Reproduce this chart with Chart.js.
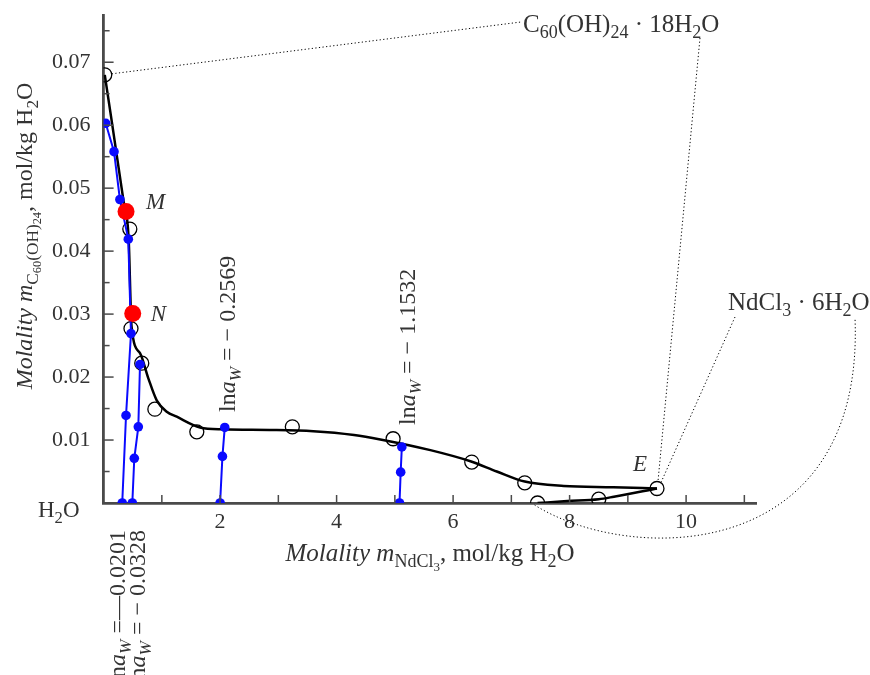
<!DOCTYPE html>
<html>
<head>
<meta charset="utf-8">
<script src="https://cdn.jsdelivr.net/npm/chart.js@4.4.0/dist/chart.umd.min.js"></script>
<style>
  html, body { margin: 0; padding: 0; background: #fff; }
  #wrap { width: 870px; height: 675px; }
</style>
</head>
<body>
<div id="wrap"><canvas id="phaseChart" width="870" height="675"></canvas></div>
<script>
// solubility curve (black line)
const solubilityX = [0.02, 0.34, 0.43, 0.48, 0.625, 0.768, 0.912, 1.084, 1.256, 1.656, 2.05, 2.85, 3.6, 4.3, 4.75, 5.61, 6.31, 6.75, 7.23, 7.9, 8.75, 9.5];
const solubilityY = [0.0680, 0.0481, 0.0420, 0.0280, 0.0238, 0.0198, 0.0163, 0.0145, 0.0137, 0.0120, 0.0117, 0.0116, 0.0114, 0.0108, 0.0101, 0.0084, 0.0066, 0.0050, 0.0034, 0.0027, 0.0025, 0.0023];
// NdCl3 branch up to the eutonic point E
const branchX = [7.45, 7.96, 8.5, 8.76, 9.5];
const branchY = [0.0000, 0.0003, 0.0006, 0.0010, 0.0023];
// experimental points (open circles)
const expX = [0.02, 0.45, 0.47, 0.655, 0.88, 1.6, 3.24, 4.97, 6.32, 7.23, 7.45, 8.5, 9.5];
const expY = [0.0680, 0.0435, 0.0277, 0.0222, 0.0149, 0.0113, 0.0121, 0.0102, 0.0065, 0.0032, 0.0000, 0.0006, 0.0023];
// isopiestic lines (blue)
const iso0201X = [0.036, 0.179, 0.28, 0.424, 0.47, 0.385, 0.32];
const iso0201Y = [0.0603, 0.0558, 0.0482, 0.0419, 0.0269, 0.0139, 0.0000];
const iso0328X = [0.493, 0.527, 0.596, 0.625];
const iso0328Y = [0.0000, 0.0071, 0.0121, 0.0220];
const iso2569X = [2.0, 2.04, 2.08];
const iso2569Y = [0.0000, 0.0074, 0.0120];
const iso1532X = [5.08, 5.10, 5.12];
const iso1532Y = [0.0000, 0.0049, 0.0089];
// points M and N (red)
const redNames = ['M', 'N'];
const redX = [0.385, 0.50];
const redY = [0.0463, 0.0301];
// x tick labels shown / y tick labels shown
const xTickLabels = [2, 4, 6, 8, 10];
const yTickLabels = ['0.01', '0.02', '0.03', '0.04', '0.05', '0.06', '0.07'];

const SERIF = '"Liberation Serif", "DejaVu Serif", serif';
const TXT = '#333';

const toPts = (xs, ys) => xs.map((x, i) => ({ x: x, y: ys[i] }));

function fontFor(st, size) {
  const lvl = (st.match(/s/g) || []).length;
  const sz = size * Math.pow(0.72, lvl);
  return (st.indexOf('i') >= 0 ? 'italic ' : '') + sz.toFixed(1) + 'px ' + SERIF;
}
function subShift(st, size) {
  const lvl = (st.match(/s/g) || []).length;
  if (lvl === 0) return 0;
  if (lvl === 1) return size * 0.24;
  return size * 0.24 + size * 0.72 * 0.2;
}
// parts: [[text, style]] style: 'n' normal, 'i' italic, 's' sub, 'ss' subsub, 'si' italic sub
function drawRich(ctx, parts, x, y, size, align) {
  let w = 0;
  parts.forEach(p => { ctx.font = fontFor(p[1], size); w += ctx.measureText(p[0]).width; });
  let cx = align === 'center' ? x - w / 2 : (align === 'right' ? x - w : x);
  ctx.textAlign = 'left';
  ctx.textBaseline = 'alphabetic';
  parts.forEach(p => {
    ctx.font = fontFor(p[1], size);
    ctx.fillText(p[0], cx, y + subShift(p[1], size));
    cx += ctx.measureText(p[0]).width;
  });
}
function drawRotated(ctx, parts, x, y, size, align) {
  ctx.save();
  ctx.translate(x, y);
  ctx.rotate(-Math.PI / 2);
  drawRich(ctx, parts, 0, 0, size, align);
  ctx.restore();
}
const lnaw = v => [['ln', 'n'], ['a', 'i'], ['W', 'si'], [' = \u2212 ' + v, 'n']];

// inward tick marks, annotations and dotted leader lines
const annotations = {
  id: 'annotations',
  afterDatasetsDraw(chart) {
    const ctx = chart.ctx;
    const xs = chart.scales.x, ys = chart.scales.y;
    const a = chart.chartArea;
    ctx.save();
    ctx.strokeStyle = '#4a4a4a';
    ctx.lineWidth = 1.5;
    xs.ticks.forEach(t => {
      if (t.value <= 0) return;
      const px = xs.getPixelForValue(t.value);
      ctx.beginPath(); ctx.moveTo(px, a.bottom); ctx.lineTo(px, a.bottom - 8); ctx.stroke();
    });
    ys.ticks.forEach(t => {
      if (t.value <= 0) return;
      const major = Math.round(t.value * 200) % 2 === 0;
      const py = ys.getPixelForValue(t.value);
      ctx.beginPath(); ctx.moveTo(a.left, py); ctx.lineTo(a.left + (major ? 10 : 6), py); ctx.stroke();
    });

    // dotted leader lines
    ctx.strokeStyle = '#000';
    ctx.lineWidth = 1;
    ctx.setLineDash([1.2, 2.4]);
    const p0x = xs.getPixelForValue(expX[0]), p0y = ys.getPixelForValue(expY[0]);
    const eX = xs.getPixelForValue(expX[12]), eY = ys.getPixelForValue(expY[12]);
    const bX = xs.getPixelForValue(expX[10]), bY = ys.getPixelForValue(expY[10]);
    ctx.beginPath(); ctx.moveTo(p0x + 7, p0y - 1); ctx.lineTo(521, 22); ctx.stroke();
    ctx.beginPath(); ctx.moveTo(700, 38); ctx.lineTo(eX + 1, eY - 7); ctx.stroke();
    ctx.beginPath(); ctx.moveTo(735, 317); ctx.lineTo(eX + 4, eY - 6); ctx.stroke();
    ctx.beginPath(); ctx.moveTo(bX - 3, bY + 2);
    ctx.bezierCurveTo(630, 565, 865, 565, 855, 318); ctx.stroke();
    ctx.setLineDash([]);

    ctx.fillStyle = TXT;
    // point labels
    drawRich(ctx, [['M', 'i']], xs.getPixelForValue(redX[0]) + 20, ys.getPixelForValue(redY[0]) - 2, 23, 'left');
    drawRich(ctx, [['N', 'i']], xs.getPixelForValue(redX[1]) + 18, ys.getPixelForValue(redY[1]) + 8, 23, 'left');
    drawRich(ctx, [['E', 'i']], eX - 24, eY - 18, 23, 'left');
    // compound labels
    drawRich(ctx, [['C', 'n'], ['60', 's'], ['(OH)', 'n'], ['24', 's'], [' \u00b7 18H', 'n'], ['2', 's'], ['O', 'n']], 523, 32, 25, 'left');
    drawRich(ctx, [['NdCl', 'n'], ['3', 's'], [' \u00b7 6H', 'n'], ['2', 's'], ['O', 'n']], 728, 310, 25, 'left');
    drawRich(ctx, [['H', 'n'], ['2', 's'], ['O', 'n']], 38, 517, 23, 'left');
    // isopiestic labels
    drawRotated(ctx, lnaw('0.2569'), 235, 412, 24, 'left');
    drawRotated(ctx, lnaw('1.1532'), 415, 425, 24, 'left');
    drawRotated(ctx, [['ln', 'n'], ['a', 'i'], ['W', 'si'], [' =\u20140.0201', 'n']], 125, 530, 24, 'right');
    drawRotated(ctx, lnaw('0.0328'), 145, 530, 24, 'right');
    // axis titles
    drawRich(ctx, [['Molality m', 'i'], ['NdCl', 's'], ['3', 'ss'], [', mol/kg H', 'n'], ['2', 's'], ['O', 'n']], 430, 561, 25, 'center');
    drawRotated(ctx, [['Molality m', 'i'], ['C', 's'], ['60', 'ss'], ['(OH)', 's'], ['24', 'ss'], [', mol/kg H', 'n'], ['2', 's'], ['O', 'n']], 32, 236, 24, 'center');
    ctx.restore();
  }
};

const blueSet = (xs, ys) => ({
  data: toPts(xs, ys), showLine: true, borderColor: '#0a0aff', borderWidth: 2,
  pointRadius: 4.8, pointBackgroundColor: '#0a0aff', pointBorderWidth: 0, order: 1, clip: 0
});

const noPad = s => { s.paddingTop = 0; s.paddingBottom = 0; s.paddingLeft = 0; s.paddingRight = 0; };

new Chart(document.getElementById('phaseChart'), {
  type: 'scatter',
  data: {
    datasets: [
      { data: toPts(redX, redY), pointRadius: 8.5, pointBackgroundColor: '#ff0000', pointBorderWidth: 0, order: 0, clip: 0 },
      blueSet(iso0201X, iso0201Y),
      blueSet(iso0328X, iso0328Y),
      blueSet(iso2569X, iso2569Y),
      blueSet(iso1532X, iso1532Y),
      { data: toPts(expX, expY), pointRadius: 7, pointBorderColor: '#000', pointBackgroundColor: 'rgba(0,0,0,0)', pointBorderWidth: 1.3, order: 2, clip: 0 },
      { data: toPts(solubilityX, solubilityY), showLine: true, borderColor: '#000', borderWidth: 2.5, pointRadius: 0, cubicInterpolationMode: 'monotone', order: 3, clip: 0 },
      { data: toPts(branchX, branchY), showLine: true, borderColor: '#000', borderWidth: 2.5, pointRadius: 0, cubicInterpolationMode: 'monotone', order: 3, clip: 0 }
    ]
  },
  options: {
    responsive: false,
    animation: false,
    devicePixelRatio: 1,
    layout: { padding: { top: 15, right: 114, left: 0, bottom: 0 } },
    plugins: { legend: { display: false }, tooltip: { enabled: false } },
    scales: {
      x: {
        type: 'linear', min: 0, max: 11.2,
        afterFit: s => { s.height = 172; noPad(s); },
        grid: { display: true, drawOnChartArea: false, drawTicks: false },
        border: { display: true, color: '#4a4a4a', width: 2.8 },
        ticks: {
          stepSize: 1, includeBounds: false, autoSkip: false, maxRotation: 0, padding: 6,
          color: TXT, font: { family: SERIF, size: 22 },
          callback: v => xTickLabels.indexOf(v) >= 0 ? String(v) : ''
        }
      },
      y: {
        type: 'linear', min: 0, max: 0.0775,
        afterFit: s => { s.width = 103.6; noPad(s); },
        grid: { display: true, drawOnChartArea: false, drawTicks: false },
        border: { display: true, color: '#4a4a4a', width: 2.8 },
        ticks: {
          stepSize: 0.005, includeBounds: false, autoSkip: false, padding: 13,
          color: TXT, font: { family: SERIF, size: 22 },
          callback: v => {
            const s = v.toFixed(2);
            return Math.round(v * 200) % 2 === 0 && yTickLabels.indexOf(s) >= 0 ? s : '';
          }
        }
      }
    }
  },
  plugins: [annotations]
});
</script>
</body>
</html>
